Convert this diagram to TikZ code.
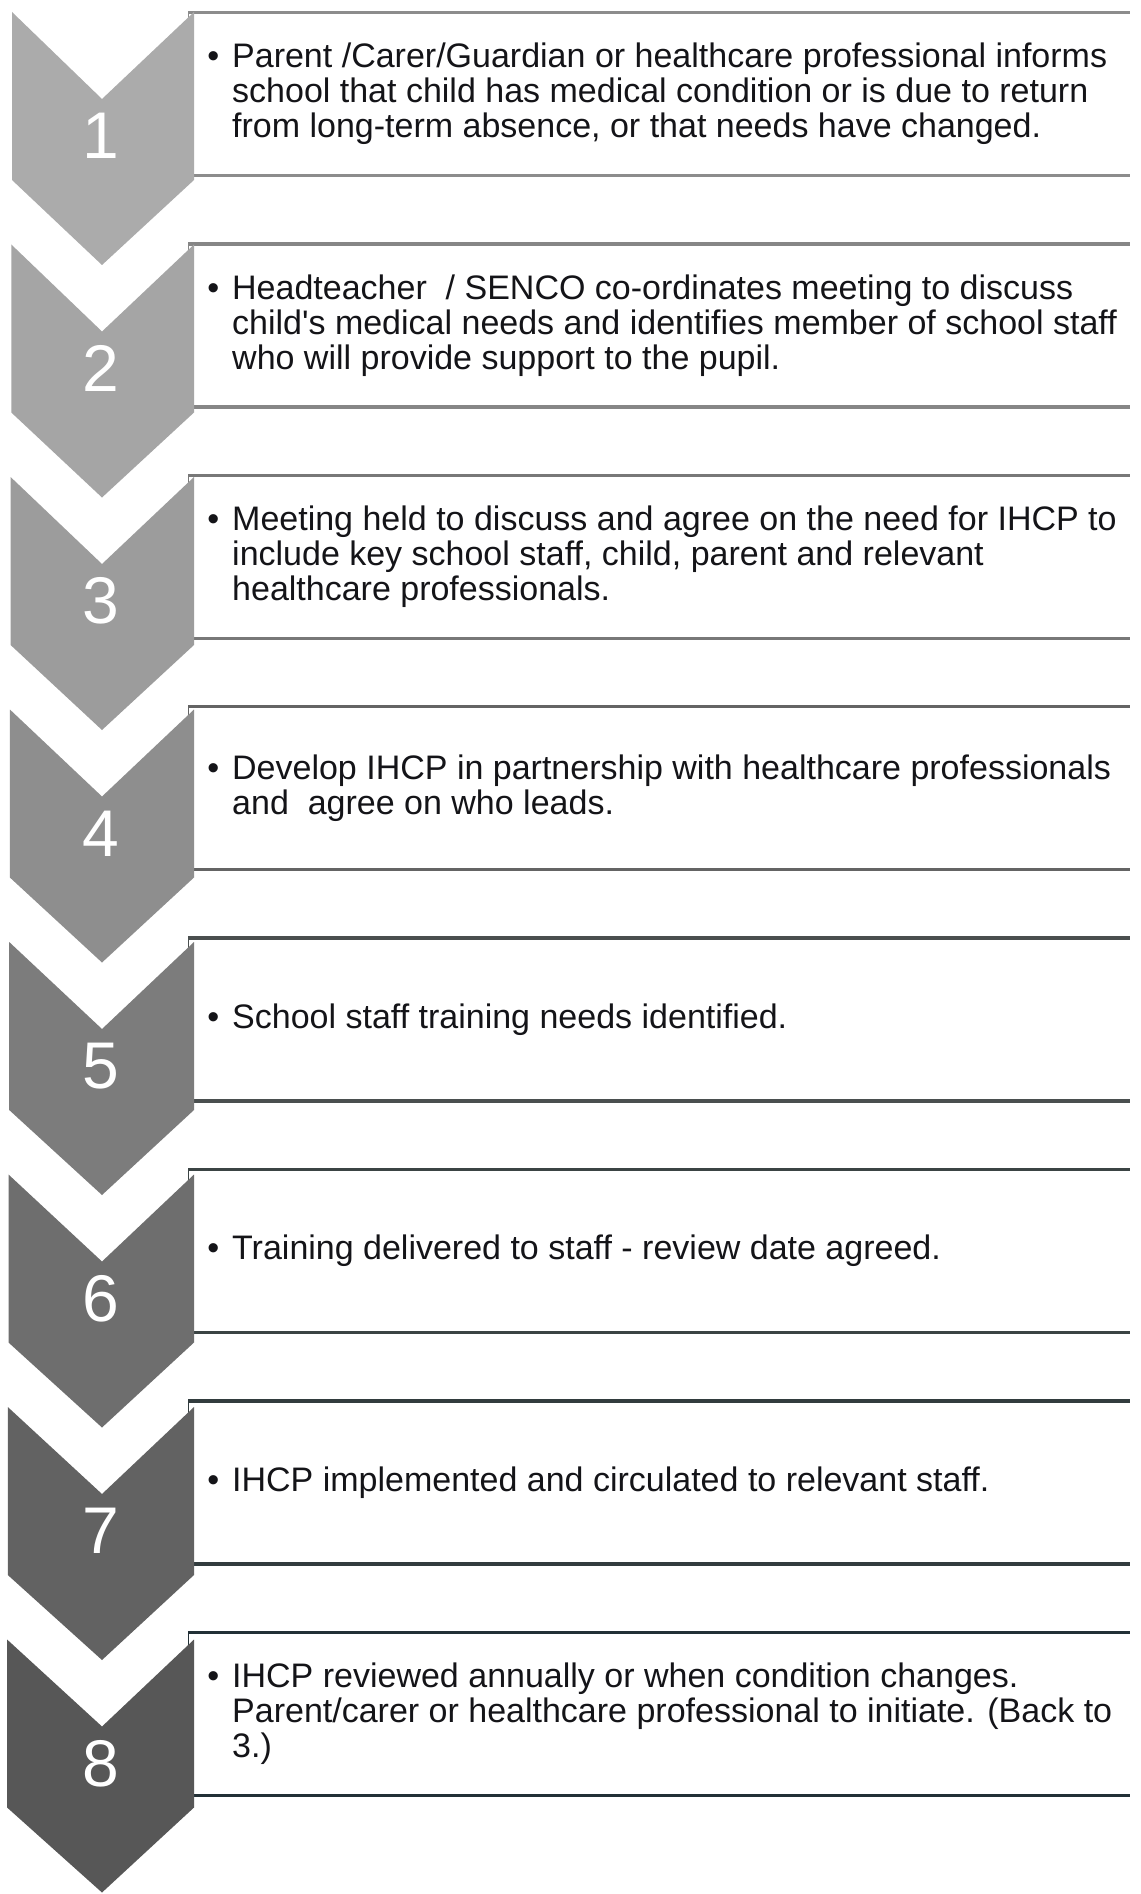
\documentclass[tikz,border=0pt]{standalone}
\usepackage{fontspec}
\setmainfont{Liberation Sans}
\definecolor{chA}{HTML}{ABABAB}
\definecolor{chB}{HTML}{A5A5A5}
\definecolor{chC}{HTML}{9C9C9C}
\definecolor{chD}{HTML}{8E8E8E}
\definecolor{chE}{HTML}{7C7C7C}
\definecolor{chF}{HTML}{6E6E6E}
\definecolor{chG}{HTML}{626262}
\definecolor{chH}{HTML}{575757}
\definecolor{lnA}{HTML}{8C8C8C}
\definecolor{lnB}{HTML}{868686}
\definecolor{lnC}{HTML}{787878}
\definecolor{lnD}{HTML}{646464}
\definecolor{lnE}{HTML}{4A4F4F}
\definecolor{lnF}{HTML}{3B4444}
\definecolor{lnG}{HTML}{323C3E}
\definecolor{lnH}{HTML}{223036}
\definecolor{txtcol}{HTML}{141418}
\newcommand{\flowstep}[4]{%
  \pgfmathsetmacro{\by}{12.5+(#1-1)*231.4}%
  \pgfmathsetmacro{\bb}{\by+163}%
  \pgfmathsetmacro{\bm}{\by+81.5}%
  \pgfmathsetmacro{\cy}{12+(#1-1)*232.5}%
  \pgfmathsetmacro{\cl}{12-(#1-1)*0.7}%
  \coordinate (bt#1) at (188,\by);
  \coordinate (btr#1) at (1130,\by);
  \coordinate (bb#1) at (188,\bb);
  \coordinate (bbr#1) at (1130,\bb);
  \draw[boxside,draw=#3] (bt#1) -- (bb#1);
  \draw[boxline,draw=#3] (bt#1) -- (btr#1);
  \draw[boxline,draw=#3] (bb#1) -- (bbr#1);
  \fill[#2] (\cl,\cy) -- (102,\cy+87) -- (194,\cy) -- (194,\cy+168)
     -- (102,\cy+253) -- (\cl,\cy+168) -- cycle;
  \node[numtxt] (num#1) at (101,\cy+124) {#1};
  \node[steptext] (txt#1) at (232,\bm) {#4};
}
\begin{document}
\begin{tikzpicture}[x=1pt,y=-1pt,
  numtxt/.style={text=white,font=\fontsize{66}{66}\selectfont,inner sep=0pt},
  steptext/.style={anchor=west,align=left,inner sep=0pt,text=txtcol,
    font=\fontsize{34}{35}\selectfont},
  boxline/.style={line width=3.5pt},
  boxside/.style={line width=1pt},
]
\useasboundingbox[fill=white] (0,0) rectangle (1140,1894);
\newcommand{\bul}{\llap{\textbullet\hspace{13pt}}}
\flowstep{1}{chA}{lnA}{\bul Parent /Carer/Guardian or healthcare professional informs\\school that child has medical condition or is due to return\\from long-term absence, or that needs have changed.}
\flowstep{2}{chB}{lnB}{\bul Headteacher \ / SENCO co-ordinates meeting to discuss\\child\textquotesingle s medical needs and identifies member of school staff\\who will provide support to the pupil.}
\flowstep{3}{chC}{lnC}{\bul Meeting held to discuss and agree on the need for IHCP to\\include key school staff, child, parent and relevant\\healthcare professionals.}
\flowstep{4}{chD}{lnD}{\bul Develop IHCP in partnership with healthcare professionals\\and \ agree on who leads.}
\flowstep{5}{chE}{lnE}{\bul School staff training needs identified.}
\flowstep{6}{chF}{lnF}{\bul Training delivered to staff - review date agreed.}
\flowstep{7}{chG}{lnG}{\bul IHCP implemented and circulated to relevant staff.}
\flowstep{8}{chH}{lnH}{\bul IHCP reviewed annually or when condition changes.\\Parent/carer or healthcare professional to initiate. (Back to\\3.)}
\end{tikzpicture}
\end{document}
